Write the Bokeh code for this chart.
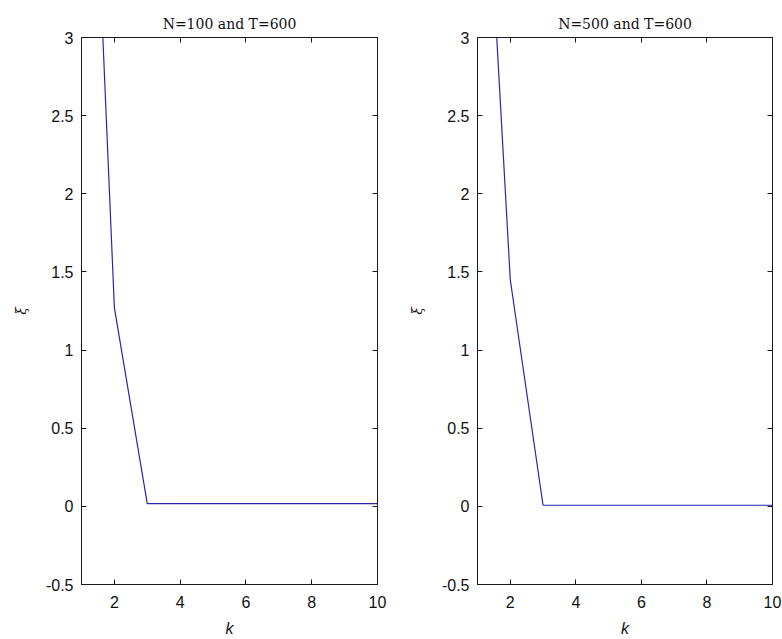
from bokeh.plotting import figure
from bokeh.layouts import row
from bokeh.models import LinearAxis, FixedTicker, Range1d
from bokeh.embed import file_html
from bokeh.resources import INLINE

# ---- data ----
k = [1, 2, 3, 4, 5, 6, 7, 8, 9, 10]
xi_n100 = [6.2, 1.27, 0.017, 0.017, 0.017, 0.017, 0.017, 0.017, 0.017, 0.017]
xi_n500 = [5.2, 1.45, 0.007, 0.007, 0.007, 0.007, 0.007, 0.007, 0.007, 0.007]
titles = ["N=100 and T=600", "N=500 and T=600"]
x_ticks = [2, 4, 6, 8, 10]
y_ticks = [-0.5, 0, 0.5, 1, 1.5, 2, 2.5, 3]
y_tick_labels = ["-0.5", "0", "0.5", "1", "1.5", "2", "2.5", "3"]
x_label = "k"
y_label = "ξ"

LINE_COLOR = "#2626b0"
AX_COLOR = "#1a1a1a"


def make(xs, ys, title, width, left, right):
    p = figure(width=width, height=639, output_backend="svg", toolbar_location=None,
               x_range=Range1d(1, 10), y_range=Range1d(-0.5, 3),
               min_border_left=left, min_border_right=right,
               min_border_top=37, min_border_bottom=55,
               title=title)
    p.title.text_font = "DejaVu Serif"
    p.title.text_font_size = "14px"
    p.title.text_font_style = "normal"
    p.title.align = "center"
    p.title.text_color = "#111111"
    p.title.standoff = 11
    p.grid.visible = False
    p.outline_line_color = AX_COLOR
    p.outline_line_width = 1
    p.outline_line_alpha = 1
    p.background_fill_color = "white"
    p.border_fill_color = "white"

    p.line(xs, ys, line_color=LINE_COLOR, line_width=1.2)

    xa = p.below[0]
    ya = p.left[0]
    xa.ticker = FixedTicker(ticks=x_ticks)
    ya.ticker = FixedTicker(ticks=y_ticks)
    ya.major_label_overrides = {v: s for v, s in zip(y_ticks, y_tick_labels)}

    # mirrored axes (ticks only, no labels)
    top = LinearAxis(ticker=FixedTicker(ticks=x_ticks))
    rgt = LinearAxis(ticker=FixedTicker(ticks=y_ticks))
    p.add_layout(top, "above")
    p.add_layout(rgt, "right")

    for ax in [xa, ya, top, rgt]:
        ax.axis_line_color = AX_COLOR
        ax.major_tick_line_color = AX_COLOR
        ax.major_tick_in = 5
        ax.major_tick_out = 0
        ax.minor_tick_line_color = None
        ax.major_label_text_font = "Liberation Sans"
        ax.major_label_text_color = "#111111"
    for ax in [top, rgt]:
        ax.major_label_text_color = None
        ax.major_label_text_font_size = "1px"
        ax.major_label_standoff = 0

    xa.major_label_text_font_size = "16px"
    ya.major_label_text_font_size = "16px"
    xa.major_label_standoff = 11
    ya.major_label_standoff = 8
    xa.axis_label = x_label
    xa.axis_label_text_font = "Liberation Sans"
    xa.axis_label_text_font_style = "italic"
    xa.axis_label_text_font_size = "16px"
    xa.axis_label_standoff = 9
    xa.axis_label_text_color = "#111111"
    ya.axis_label = y_label
    ya.axis_label_text_font = "DejaVu Serif"
    ya.axis_label_text_font_style = "italic"
    ya.axis_label_text_font_size = "14px"
    ya.axis_label_standoff = 14
    ya.axis_label_text_color = "#111111"
    return p


p1 = make(k, xi_n100, titles[0], 400, 81, 23)
p2 = make(k, xi_n500, titles[1], 382, 77, 10)
p = row(p1, p2)

open("out.html", "w").write(file_html(p, INLINE))
